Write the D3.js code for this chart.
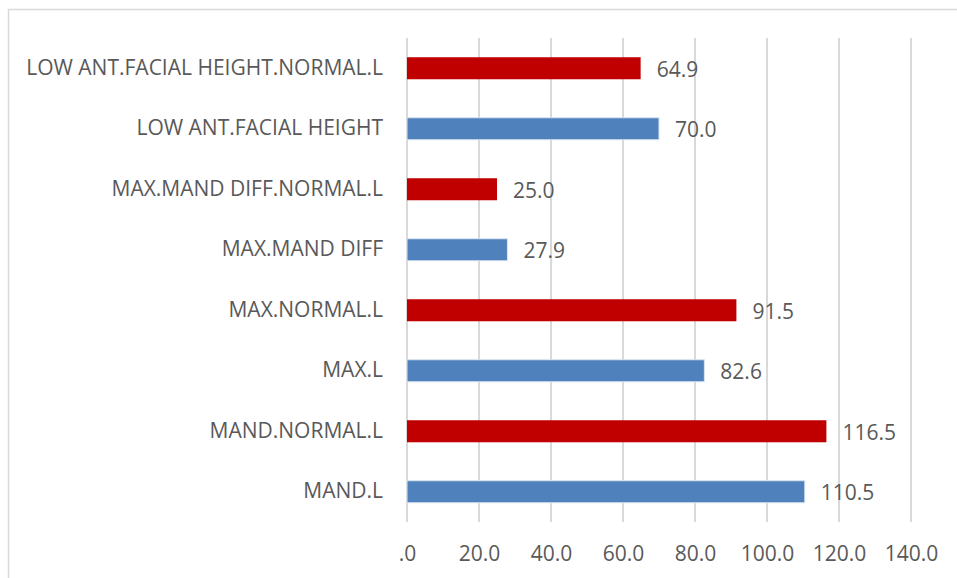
<!DOCTYPE html>
<html>
<head>
<meta charset="utf-8">
<script src="https://cdn.jsdelivr.net/npm/d3@7"></script>
<style>
  html, body { margin: 0; padding: 0; background: #fff; }
  svg { display: block; }
  text { font-family: "Open Sans", "Noto Sans", sans-serif; fill: #595959; }
</style>
</head>
<body>
<svg id="chart" width="957" height="578"></svg>
<script>
// Measurements, listed top to bottom
const categories = [
  "LOW ANT.FACIAL HEIGHT.NORMAL.L",
  "LOW ANT.FACIAL HEIGHT",
  "MAX.MAND DIFF.NORMAL.L",
  "MAX.MAND DIFF",
  "MAX.NORMAL.L",
  "MAX.L",
  "MAND.NORMAL.L",
  "MAND.L"
];
const values = [64.9, 70.0, 25.0, 27.9, 91.5, 82.6, 116.5, 110.5];
const tickValues = [0, 20, 40, 60, 80, 100, 120, 140];
const tickLabels = [".0", "20.0", "40.0", "60.0", "80.0", "100.0", "120.0", "140.0"];

const rows = categories.map((c, i) => ({
  name: c,
  value: values[i],
  normal: /NORMAL\.L$/.test(c)
}));

const colorNormal = "#C00000";
const colorMeasured = "#4F81BD";
const fontSize = "21px";

const svg = d3.select("#chart");
const margin = { left: 407, right: 46, top: 38, bottom: 56 };
const W = 957, H = 578;

// chart area outline
svg.append("rect")
  .attr("x", 8.5).attr("y", 9.5)
  .attr("width", 1000).attr("height", 1000)
  .attr("fill", "none")
  .attr("stroke", "#d9d9d9")
  .attr("stroke-width", 1.5);

const x = d3.scaleLinear().domain([0, 140]).range([margin.left, W - margin.right]);
const y = d3.scaleBand().domain(categories)
  .range([margin.top, H - margin.bottom])
  .paddingInner(0.636).paddingOuter(0.318);

// vertical gridlines
svg.append("g")
  .selectAll("line")
  .data(tickValues)
  .join("line")
  .attr("x1", d => x(d)).attr("x2", d => x(d))
  .attr("y1", margin.top).attr("y2", H - margin.bottom)
  .attr("stroke", "#d9d9d9")
  .attr("stroke-width", 2);

// x axis labels
const xAxis = d3.axisBottom(x)
  .tickValues(tickValues)
  .tickFormat((d, i) => tickLabels[i])
  .tickSize(0)
  .tickPadding(0);
const gx = svg.append("g")
  .attr("transform", `translate(0,${H - margin.bottom})`)
  .call(xAxis);
gx.select(".domain").remove();
gx.selectAll("text")
  .attr("y", 39)
  .attr("dy", null)
  .style("font-size", fontSize)
  .style("font-family", "'Open Sans', sans-serif")
  .attr("fill", "#595959");

// category labels
const yAxis = d3.axisLeft(y).tickSize(0).tickPadding(24);
const gy = svg.append("g")
  .attr("transform", `translate(${margin.left},0)`)
  .call(yAxis);
gy.select(".domain").remove();
gy.selectAll("text")
  .style("font-size", fontSize)
  .style("font-family", "'Open Sans', sans-serif")
  .attr("fill", "#595959");

// bars
svg.append("g")
  .selectAll("rect")
  .data(rows)
  .join("rect")
  .attr("x", x(0))
  .attr("y", d => y(d.name))
  .attr("width", d => x(d.value) - x(0))
  .attr("height", y.bandwidth())
  .attr("fill", d => d.normal ? colorNormal : colorMeasured)
  .attr("stroke", d => d.normal ? "none" : "#dbe5f1")
  .attr("stroke-width", 1);

// value labels
svg.append("g")
  .selectAll("text")
  .data(rows)
  .join("text")
  .attr("x", d => x(d.value) + 16)
  .attr("y", d => y(d.name) + y.bandwidth() / 2 + 1)
  .attr("dy", "0.35em")
  .style("font-size", fontSize)
  .text(d => d.value.toFixed(1));
</script>
</body>
</html>
